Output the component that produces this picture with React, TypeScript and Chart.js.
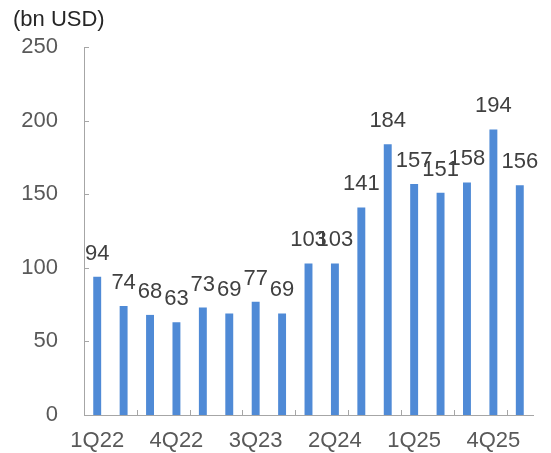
import { useEffect, useRef } from "react";
import { Chart, registerables } from "chart.js";

Chart.register(...registerables);

const categories = [
  "1Q22", "2Q22", "3Q22", "4Q22",
  "1Q23", "2Q23", "3Q23", "4Q23",
  "1Q24", "2Q24", "3Q24", "4Q24",
  "1Q25", "2Q25", "3Q25", "4Q25",
  "1Q26",
];
const values = [94, 74, 68, 63, 73, 69, 77, 69, 103, 103, 141, 184, 157, 151, 158, 194, 156];
const yTicks = [0, 50, 100, 150, 200, 250];
const unitLabel = "(bn USD)";
const labelEvery = 3;
const tickMarkEvery = 2;

const FONT = "'Liberation Sans', Arial, sans-serif";
const FONT_SIZE = 22;
const AXIS_COLOR = "#a6a6a6";

const overlayPlugin = {
  id: "overlayPlugin",
  afterDraw(chart: any) {
    const { ctx, chartArea, scales } = chart;
    ctx.save();
    // inward tick marks
    ctx.strokeStyle = AXIS_COLOR;
    ctx.lineWidth = 1;
    ctx.beginPath();
    const ys = scales.y;
    yTicks.forEach((v) => {
      const py = Math.round(ys.getPixelForValue(v)) + 0.5;
      ctx.moveTo(chartArea.left, py);
      ctx.lineTo(chartArea.left + 5, py);
    });
    const xs = scales.x;
    for (let i = tickMarkEvery; i < categories.length; i += tickMarkEvery) {
      const px = Math.round((xs.getPixelForValue(i - 1) + xs.getPixelForValue(i)) / 2) + 0.5;
      ctx.moveTo(px, chartArea.bottom);
      ctx.lineTo(px, chartArea.bottom - 5);
    }
    ctx.stroke();

    // value labels
    const meta = chart.getDatasetMeta(0);
    ctx.font = `${FONT_SIZE}px ${FONT}`;
    ctx.fillStyle = "#404040";
    ctx.textAlign = "center";
    ctx.textBaseline = "alphabetic";
    meta.data.forEach((bar: any, i: number) => {
      ctx.fillText(String(values[i]), bar.x, bar.y - 17);
    });

    // unit label
    ctx.fillStyle = "#262626";
    ctx.textAlign = "left";
    ctx.fillText(unitLabel, 13, 26);
    ctx.restore();
  },
};

export default function App() {
  const ref = useRef<HTMLCanvasElement | null>(null);

  useEffect(() => {
    document.body.style.margin = "0";
    if (!ref.current) return;
    const chart = new Chart(ref.current, {
      type: "bar",
      data: {
        labels: categories,
        datasets: [
          {
            data: values,
            backgroundColor: "#4f8ad6",
            borderWidth: 0,
            barPercentage: 0.3,
            categoryPercentage: 1,
          },
        ],
      },
      options: {
        animation: false,
        responsive: true,
        maintainAspectRatio: false,
        layout: { padding: { top: 47, right: 18, bottom: 0, left: 0 } },
        plugins: {
          legend: { display: false },
          tooltip: { enabled: false },
          title: { display: false },
        },
        scales: {
          x: {
            offset: true,
            grid: { display: false },
            border: { display: true, color: AXIS_COLOR, width: 1 },
            ticks: {
              autoSkip: false,
              maxRotation: 0,
              minRotation: 0,
              padding: 5,
              color: "#595959",
              font: { family: FONT, size: FONT_SIZE },
              callback: (_v: any, i: number) => (i % labelEvery === 0 ? categories[i] : ""),
            },
            afterFit: (scale: any) => {
              scale.height = 38;
            },
          },
          y: {
            min: 0,
            max: 250,
            grid: { display: false },
            border: { display: true, color: AXIS_COLOR, width: 1 },
            ticks: {
              stepSize: 50,
              padding: 18,
              color: "#595959",
              font: { family: FONT, size: FONT_SIZE },
            },
            afterFit: (scale: any) => {
              scale.width = 84;
            },
          },
        },
      },
      plugins: [overlayPlugin],
    });
    return () => chart.destroy();
  }, []);

  return (
    <div style={{ position: "fixed", left: 0, top: 0, width: 551, height: 453 }}>
      <canvas ref={ref} />
    </div>
  );
}
